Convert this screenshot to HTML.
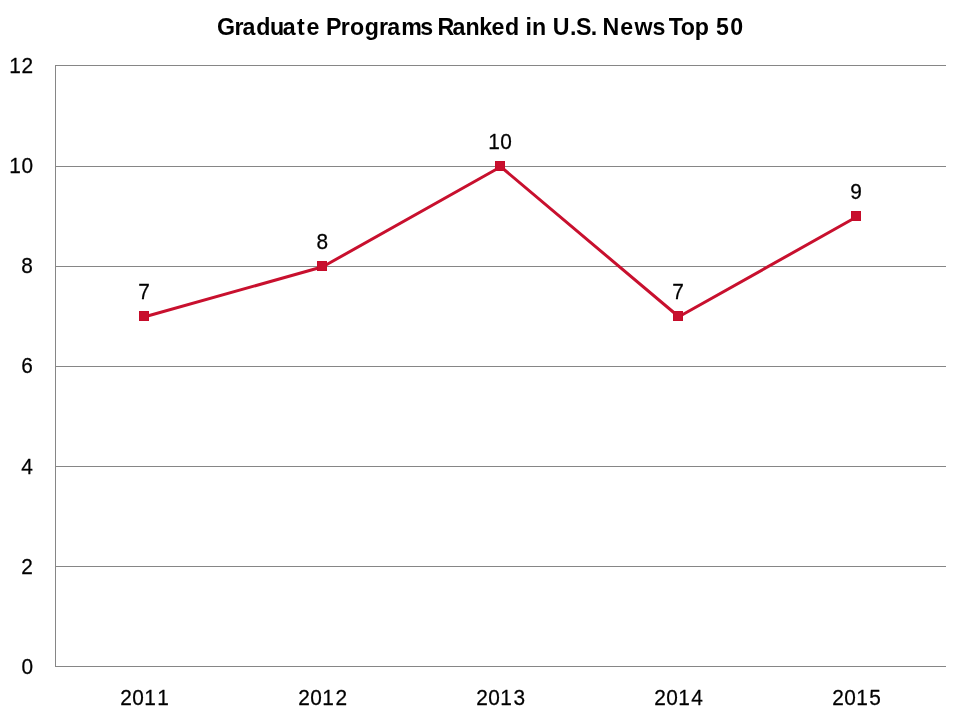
<!DOCTYPE html>
<html lang="en">
<head>
<meta charset="utf-8">
<title>Graduate Programs Ranked in U.S. News Top 50</title>
<style>
  html, body { margin: 0; padding: 0; background: #ffffff; }
  body { width: 960px; height: 720px; overflow: hidden; }
  svg { display: block; will-change: transform; }
  text { font-family: "Liberation Sans", sans-serif; fill: #000000; }
  .title { font-weight: bold; font-size: 23.2px; }
  .lbl { font-size: 21.7px; stroke: #000000; stroke-width: 0.25px; stroke-linejoin: round; }
  .grid { fill: #868686; shape-rendering: crispEdges; }
  .mk { fill: #c50c2a; shape-rendering: crispEdges; }
  .mkin { fill: #c8102e; shape-rendering: crispEdges; }
</style>
</head>
<body>
<svg width="960" height="720" viewBox="0 0 960 720">
  <rect x="0" y="0" width="960" height="720" fill="#ffffff"/>

  <!-- title -->
  <g class="title" transform="scale(1.0,1)"><text y="35" x="217.02 234.40 242.54 256.15 270.11 282.79 296.99 306.40 319.30 326.05 340.80 350.01 364.64 379.10 387.26 401.34 420.19 433.09 437.45 452.59 465.54 479.35 491.57 505.03 519.20 525.53 531.90 546.07 552.67 569.91 575.93 590.64 597.08 602.51 620.29 634.49 652.61 665.51 668.73 680.66 694.65 708.82 715.95 730.31">Graduate Programs Ranked in U.S. News Top 50</text></g>

  <!-- horizontal gridlines -->
  <g class="grid">
    <rect x="55" y="65" width="891" height="1"/>
    <rect x="55" y="166" width="891" height="1"/>
    <rect x="55" y="266" width="891" height="1"/>
    <rect x="55" y="366" width="891" height="1"/>
    <rect x="55" y="466" width="891" height="1"/>
    <rect x="55" y="566" width="891" height="1"/>
    <rect x="55" y="666" width="891" height="1"/>
    <!-- vertical axis -->
    <rect x="55" y="65" width="1" height="602"/>
  </g>

  <!-- y axis labels -->
  <g class="lbl" transform="scale(0.96,1)">
    <text y="73" x="9.66 22.30">12</text>
    <text y="173" x="9.66 22.30">10</text>
    <text y="273" x="22.14">8</text>
    <text y="373" x="22.07">6</text>
    <text y="474" x="22.03">4</text>
    <text y="574" x="22.25">2</text>
    <text y="674" x="22.30">0</text>
  </g>

  <!-- x axis labels -->
  <g class="lbl" transform="scale(0.96,1)">
    <text y="705" x="125.37 137.77 150.26 163.83">2011</text>
    <text y="705" x="310.79 323.18 335.67 349.38">2012</text>
    <text y="705" x="496.21 508.60 521.09 534.78">2013</text>
    <text y="705" x="681.62 694.02 706.51 720.15">2014</text>
    <text y="705" x="867.04 879.43 891.92 905.52">2015</text>
  </g>

  <!-- series line -->
  <polyline points="144.8,316.77 322.8,266.77 500.8,166.77 678.8,316.77 856.8,216.77" fill="none" stroke="#c8102e" stroke-width="3" stroke-linejoin="round" stroke-linecap="round"/>

  <!-- markers -->
  <g class="mk">
    <rect x="139" y="311" width="10" height="10"/>
    <rect x="317" y="261" width="10" height="10"/>
    <rect x="495" y="161" width="10" height="10"/>
    <rect x="673" y="311" width="10" height="10"/>
    <rect x="851" y="211" width="10" height="10"/>
  </g>
  <g class="mkin">
    <rect x="140" y="312" width="8" height="8"/>
    <rect x="318" y="262" width="8" height="8"/>
    <rect x="496" y="162" width="8" height="8"/>
    <rect x="674" y="312" width="8" height="8"/>
    <rect x="852" y="212" width="8" height="8"/>
  </g>

  <!-- data labels -->
  <g class="lbl" transform="scale(0.96,1)">
    <text y="299" x="144.06">7</text>
    <text y="249" x="329.59">8</text>
    <text y="149" x="508.67 521.21">10</text>
    <text y="299" x="700.31">7</text>
    <text y="199" x="885.74">9</text>
  </g>
</svg>
</body>
</html>
